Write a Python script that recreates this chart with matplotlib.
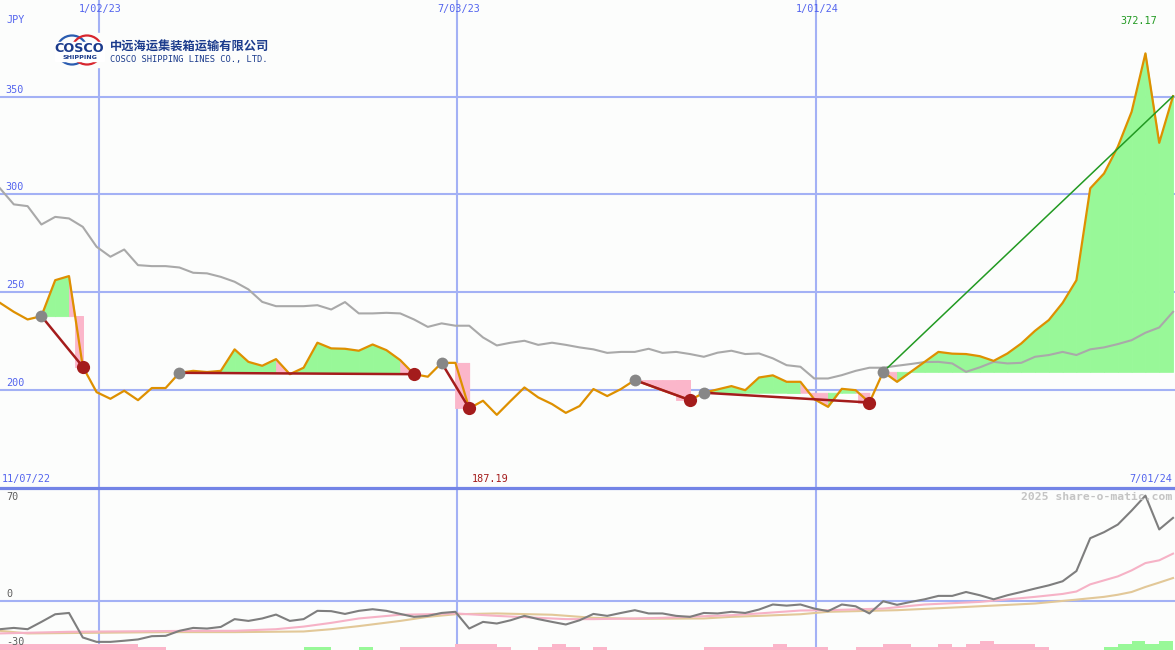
import numpy as np
import pandas as pd
import matplotlib
matplotlib.use("Agg")
import matplotlib.pyplot as plt
import matplotlib.dates as mdates
from matplotlib.patches import Ellipse, Rectangle

# ---------------- data ----------------
start_date = "2022-11-13"
n_weeks = 86
dates = pd.date_range(start_date, periods=n_weeks, freq="7D")

price = [244.5, 239.9, 236.0, 237.7, 256.1, 258.2, 211.8, 198.8, 195.4, 199.5,
         194.7, 200.9, 200.9, 208.7, 209.7, 209.1, 209.7, 220.7, 214.3, 212.3,
         215.7, 208.0, 211.3, 224.1, 221.2, 221.0, 220.0, 223.2, 220.3, 215.2,
         208.0, 206.7, 213.8, 213.8, 190.5, 194.4, 187.19, 194.3, 201.2, 196.1,
         192.7, 188.2, 191.7, 200.4, 196.8, 200.4, 205.0, 202.4, 199.8, 197.3,
         194.7, 198.5, 200.2, 201.9, 199.8, 206.3, 207.4, 204.1, 204.1, 195.2,
         191.3, 200.5, 199.8, 193.5, 209.2, 204.1, 209.2, 214.3, 219.4, 218.5,
         218.3, 217.2, 214.8, 218.6, 223.7, 230.2, 235.7, 244.5, 256.1, 303.1,
         310.7, 324.4, 342.3, 372.17, 326.4, 350.3]

ma_long = [303.1, 294.9, 294.0, 284.6, 288.5, 287.7, 283.4, 273.2, 268.1, 271.8,
           263.8, 263.3, 263.3, 262.6, 259.9, 259.6, 257.8, 255.3, 251.4, 245.0,
           242.8, 242.8, 242.8, 243.3, 241.1, 244.9, 239.1, 239.1, 239.4, 239.1,
           236.0, 232.2, 234.0, 232.8, 232.8, 226.8, 222.7, 224.1, 225.1, 223.0,
           224.1, 223.0, 221.7, 220.7, 218.9, 219.4, 219.4, 221.0, 218.9, 219.4,
           218.3, 216.9, 219.0, 220.0, 218.3, 218.6, 216.1, 212.6, 211.8, 205.8,
           205.8, 207.5, 209.7, 211.3, 211.3, 212.3, 213.2, 214.2, 214.3, 213.5,
           209.2, 211.5, 214.3, 213.5, 213.8, 216.9, 217.8, 219.4, 217.8, 220.7,
           221.7, 223.4, 225.4, 229.2, 231.9, 239.9]

osc = [-17.2, -16.4, -17.2, -12.7, -8.0, -7.2, -22.3, -25.0, -25.0, -24.3,
       -23.5, -21.5, -21.3, -18.2, -16.4, -16.8, -15.8, -11.0, -12.1, -10.6,
       -8.2, -12.1, -11.0, -5.9, -6.1, -7.8, -5.9, -4.9, -5.9, -7.8,
       -9.6, -9.0, -7.2, -6.5, -16.8, -12.7, -13.7, -11.7, -9.0, -11.0,
       -12.7, -14.3, -11.7, -7.8, -9.0, -7.2, -5.5, -7.5, -7.5, -9.0,
       -9.6, -7.2, -7.5, -6.5, -7.2, -5.1, -2.0, -2.7, -2.0, -4.5,
       -6.1, -2.0, -3.1, -7.5, 0.0, -2.2, -0.4, 1.2, 3.3, 3.3,
       5.7, 3.7, 1.2, 3.7, 5.7, 7.8, 9.8, 12.3, 18.6, 38.8,
       42.5, 47.2, 55.8, 65.0, 44.2, 51.3]

osc_fast_idx = [0, 5, 14, 17, 20, 22, 24, 26, 29, 31, 33, 36, 41, 43, 46, 48, 51,
                53, 55, 58, 60, 64, 67, 71, 75, 77, 78, 79, 81, 82, 83, 84, 85]
osc_fast = [-19.8, -18.8, -18.2, -18.2, -17.2, -15.6, -13.3, -10.6, -8.3, -8.0,
            -7.5, -9.0, -11.0, -11.0, -10.6, -10.2, -9.2, -8.6, -7.5, -5.7, -5.5,
            -4.5, -2.0, -0.4, 2.7, 4.5, 6.0, 10.4, 15.3, 19.0, 23.5, 25.2, 29.3]

osc_slow_idx = [0, 2, 7, 12, 17, 22, 24, 26, 29, 31, 33, 36, 40, 43, 46, 51, 53,
                55, 58, 60, 65, 70, 75, 78, 80, 81, 82, 83, 84, 85]
osc_slow = [-18.2, -19.8, -19.4, -19.0, -19.0, -18.6, -17.2, -15.3, -12.1, -9.6,
            -8.0, -7.5, -8.3, -10.2, -10.8, -10.6, -9.6, -9.0, -8.0, -6.5, -5.5,
            -3.5, -1.4, 1.0, 2.7, 4.0, 5.7, 8.8, 11.5, 14.3]

bar_levels = [-2, -2, -2, -2, -2, -2, -2, -2, -2, -2,
              -1, -1, 0, 0, 0, 0, 0, 0, 0, 0,
              0, 0, 1, 1, 0, 0, 1, 0, 0, -1,
              -1, -1, -1, -2, -2, -2, -1, 0, 0, -1,
              -2, -1, 0, -1, 0, 0, 0, 0, 0, 0,
              0, -1, -1, -1, -1, -1, -2, -1, -1, -1,
              0, 0, -1, -1, -2, -2, -1, -1, -2, -1,
              -2, -3, -2, -2, -2, -1, 0, 0, 0, 0,
              1, 2, 3, 2, 3]

buy_idx = [3, 13, 32, 46, 51, 64]
sell_idx = [6, 30, 34, 50, 63]

grid_dates = ["2023-01-02", "2023-07-03", "2024-01-01"]
grid_labels = ["1/02/23", "7/03/23", "1/01/24"]
price_ticks = [200, 250, 300, 350]
osc_ticks = [70, 0, -30]
range_labels = ["11/07/22", "7/01/24"]

# ---------------- style ----------------
W, H = 1175, 650
bg = "#fcfdfc"
grid_c = "#a3b1f5"
sep_c = "#7384e6"
blue_txt = "#5364ee"
orange = "#de9000"
ma_c = "#a9a9a9"
green_fill = "#98f898"
pink_fill = "#fbb6ca"
dark_red = "#a41c1c"
trend_green = "#229a22"
mono = "DejaVu Sans Mono"

fig = plt.figure(figsize=(W / 100, H / 100), dpi=100)
fig.patch.set_facecolor(bg)
ax = fig.add_axes([0, 0.25, 1, 0.75])
ax2 = fig.add_axes([0, 0, 1, 0.25], sharex=ax)
for a in (ax, ax2):
    a.set_axis_off()
    a.set_facecolor(bg)

xs = mdates.date2num(dates)
xmin = mdates.date2num(pd.Timestamp("2022-11-13"))
xmax = mdates.date2num(pd.Timestamp("2024-07-01"))
ax.set_xlim(xmin, xmax)
ax.set_ylim(150, 399.5)
ax2.set_ylim(-30, 70)

# grid
for y in price_ticks:
    ax.axhline(y, color=grid_c, lw=1.5, zorder=1)
for d in grid_dates:
    ax.axvline(mdates.date2num(pd.Timestamp(d)), color=grid_c, lw=1.5, zorder=1)
    ax2.axvline(mdates.date2num(pd.Timestamp(d)), color=grid_c, lw=1.5, zorder=1)
ax2.axhline(0, color=grid_c, lw=1.5, zorder=1)
ax2.axhline(70, color=sep_c, lw=2.3, zorder=6, clip_on=False)

# trades: fills, lines, markers
price_a = np.array(price)
trades = list(zip(buy_idx, sell_idx + [n_weeks - 1]))
for k, (b, s) in enumerate(trades):
    lvl = price_a[b]
    for i in range(b, s):
        c = green_fill if price_a[i + 1] >= lvl else pink_fill
        ax.fill_between(xs[i:i + 2], price_a[i:i + 2], lvl, color=c,
                        lw=0.6, edgecolor=c, zorder=2)
    closed = k < len(sell_idx)
    if closed and price_a[s] < lvl:
        p0, p1 = price_a[s - 1], price_a[s]
        if p0 > lvl:
            f = (p0 - lvl) / (p0 - p1)
            xa = xs[s - 1] + f * (xs[s] - xs[s - 1])
        else:
            xa = xs[s - 1]
        ax.fill_between([xa, xs[s]], [lvl, lvl], [p1, p1], color=pink_fill,
                        lw=0.6, edgecolor=pink_fill, zorder=2)
    if closed:
        ax.plot([xs[b], xs[s]], [price_a[b], price_a[s]], color=dark_red,
                lw=1.8, zorder=4, solid_capstyle="butt")
    else:
        ax.plot([xs[b], xs[s]], [price_a[b], price_a[s]], color=trend_green,
                lw=1.1, zorder=4)

ax.plot(xs, ma_long, color=ma_c, lw=1.5, zorder=2.5)
ax.plot(xs, price, color=orange, lw=1.6, zorder=3)

ax.plot(xs[buy_idx], price_a[buy_idx], "o", color="#878787", ms=8.5, zorder=5,
        markeredgewidth=0)
ax.plot(xs[sell_idx], price_a[sell_idx], "o", color=dark_red, ms=9.5, zorder=5,
        markeredgewidth=0)

# bottom panel
lev_unit = 1.85
for i, lv in enumerate(bar_levels):
    if lv != 0:
        ax2.bar(xs[i], abs(lv) * lev_unit, width=7, align="edge", bottom=-30,
                color=green_fill if lv > 0 else pink_fill, lw=0, zorder=2)
ax2.plot(xs[osc_slow_idx], osc_slow, color="#e2c898", lw=1.5, zorder=3)
ax2.plot(xs[osc_fast_idx], osc_fast, color="#f6b2c6", lw=1.5, zorder=3.2)
ax2.plot(xs, osc, color="#7e7e7e", lw=1.5, zorder=4)

# ---------------- text ----------------
def fx(x):
    return x / W

def fy(y):
    return 1 - y / H

fs = 7.3
for d, lab in zip(grid_dates, grid_labels):
    ax.annotate(lab, xy=(mdates.date2num(pd.Timestamp(d)), 1.0),
                xycoords=("data", "axes fraction"), xytext=(1.5, -9),
                textcoords="offset pixels", ha="center", va="center",
                fontsize=fs, family=mono, color=blue_txt, zorder=7)
fig.text(fx(6), fy(20), "JPY", fontsize=fs, family=mono, color=blue_txt,
         ha="left", va="center")
for t in price_ticks:
    ax.annotate(str(t), xy=(0.005, t), xycoords=("axes fraction", "data"),
                xytext=(0, 2), textcoords="offset pixels", ha="left",
                va="bottom", fontsize=fs, family=mono, color=blue_txt, zorder=7)

imax = int(np.argmax(price_a))
imin = int(np.argmin(price_a))
fig.text(fx(xs[imax] * 0 + (xs[imax] - xmin) / (xmax - xmin) * W - 7), fy(21),
         f"{price_a[imax]:.2f}", fontsize=fs, family=mono, color=trend_green,
         ha="center", va="center")
fig.text(fx((xs[imin] - xmin) / (xmax - xmin) * W - 7), fy(479),
         f"{price_a[imin]:.2f}", fontsize=fs, family=mono, color=dark_red,
         ha="center", va="center")
fig.text(fx(2), fy(479), range_labels[0], fontsize=fs, family=mono,
         color=blue_txt, ha="left", va="center")
fig.text(fx(1172), fy(479), range_labels[1], fontsize=fs, family=mono,
         color=blue_txt, ha="right", va="center")
fig.text(fx(1172), fy(497), "2025 share-o-matic.com", fontsize=8.2,
         family=mono, weight="bold", color="#c4c4c4", ha="right", va="center")
osc_label_y = {70: 497, 0: 594, -30: 642}
for t in osc_ticks:
    fig.text(fx(6), fy(osc_label_y[t]), str(t), fontsize=fs, family=mono,
             color="#5e5e5e", ha="left", va="center")

# ---------------- logo ----------------
logo_ax = fig.add_axes([0, 0, 1, 1], facecolor="none")
logo_ax.set_xlim(0, W)
logo_ax.set_ylim(H, 0)
logo_ax.set_axis_off()
logo_ax.add_patch(Rectangle((54, 33), 216, 34, color=bg, zorder=1))
logo_ax.add_patch(Ellipse((72, 50), 30, 29, fill=False, ec="#2a5cb0", lw=1.6, zorder=2))
logo_ax.add_patch(Ellipse((87, 50), 30, 29, fill=False, ec="#d8262e", lw=1.6, zorder=2))
logo_ax.add_patch(Rectangle((55, 42), 49, 19, color="white", zorder=3))
logo_ax.text(79.5, 48.5, "COSCO", fontsize=9.2, weight="bold", color="#1b3b8c",
             ha="center", va="center", family="DejaVu Sans", zorder=4)
logo_ax.text(80, 57.2, "SHIPPING", fontsize=4.6, weight="bold", color="#1b3b8c",
             ha="center", va="center", family="DejaVu Sans", zorder=4)
logo_ax.text(110, 47, "中远海运集装箱运输有限公司", fontsize=8.8, weight="bold",
             color="#1b3b8c", ha="left", va="center",
             family=["Noto Sans CJK SC", "DejaVu Sans"], zorder=4)
logo_ax.text(110, 59.5, "COSCO SHIPPING LINES CO., LTD.", fontsize=6.3,
             color="#1b3b8c", ha="left", va="center", family=mono, zorder=4)

fig.savefig("out.png", dpi=100, facecolor=bg)
